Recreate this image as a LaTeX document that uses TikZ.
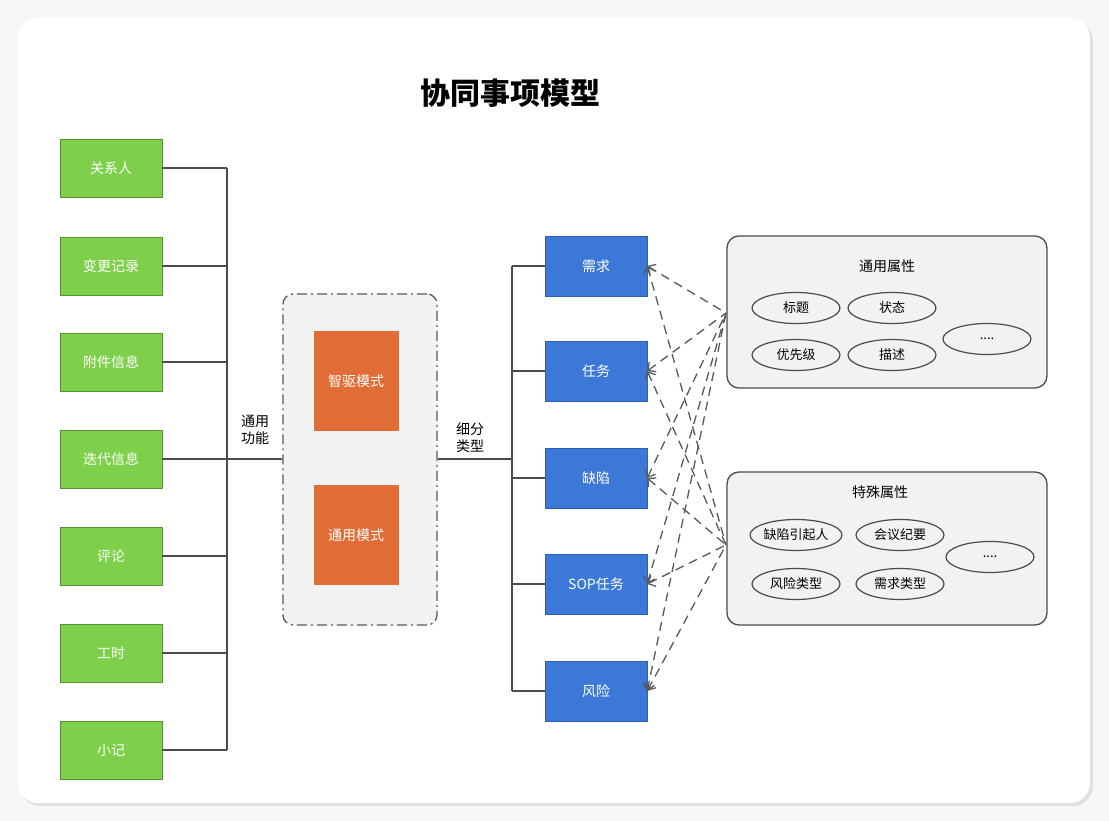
\documentclass[tikz,border=0pt]{standalone}
\usepackage{fontspec}
\setmainfont{Noto Sans CJK SC}
\usetikzlibrary{positioning,shapes.geometric,arrows.meta}
\definecolor{leaf}{HTML}{7ED04B}
\definecolor{mode}{HTML}{E06C36}
\definecolor{kind}{HTML}{3C78D8}
\definecolor{panel}{HTML}{F2F2F2}
\tikzset{
  feature/.style={draw=leaf!70!black,fill=leaf,minimum width=102pt,minimum height=58pt,font=\fontsize{14}{16}\selectfont,text=white},
  modebox/.style={fill=mode,minimum width=85pt,minimum height=100pt,font=\fontsize{14}{16}\selectfont,text=white},
  kindbox/.style={draw=kind!80!black,fill=kind,minimum width=102pt,minimum height=60pt,font=\fontsize{14}{16}\selectfont,text=white},
  attr/.style={ellipse,draw=black!70,line width=1.2pt,fill=panel,minimum width=88pt,minimum height=31pt,inner sep=0pt,font=\fontsize{13}{15}\selectfont},
  link/.style={draw=black!70,line width=1.3pt},
  dashlink/.style={draw=black!65,line width=1.3pt,dash pattern=on 9pt off 6pt,{Straight Barb[length=6pt,width=12pt]}-}
}
\begin{document}
\begin{tikzpicture}[x=1pt,y=-1pt]
  \fill[black!3] (0,0) rectangle (1109,821);
  \fill[black!12,rounded corners=20pt] (20,21) rectangle (1093,806);
  \fill[white,rounded corners=20pt] (18,18) rectangle (1090,803);
  \useasboundingbox (0,0) rectangle (1109,821);

  \node (title) at (510,93) {\fontsize{30}{34}\selectfont\bfseries 协同事项模型};

  % features
  \foreach \name/\txt/\y in {rel/关系人/168,chg/变更记录/266,att/附件信息/362,itr/迭代信息/459,cmt/评论/556,hrs/工时/653,note/小记/750}
    \node[feature] (\name) at (111,\y) {\txt};
  \coordinate (bustop) at (227,168);
  \coordinate (busbot) at (227,750);
  \draw[link] (bustop) -- (busbot);
  \foreach \name in {rel,chg,att,itr,cmt,hrs,note}
    \draw[link] (\name.east) -- (\name.east -| bustop);

  % modes
  \node[draw=black!65,line width=1.3pt,dash pattern=on 10pt off 4pt on 2pt off 4pt,fill=panel,rounded corners=10pt,minimum width=154pt,minimum height=331pt] (modes) at (360,459.5) {};
  \node[modebox] (smart) at (356,381) {智驱模式};
  \node[modebox] (plain) at (356,535) {通用模式};
  \draw[link] (itr.east -| bustop) -- (itr.east -| modes.west);
  \node[align=center,font=\fontsize{14}{17}\selectfont] (common) at (255,430) {通用\\功能};

  % kinds
  \foreach \name/\txt/\y in {req/需求/266,task/任务/371,bug/缺陷/478,sop/SOP任务/584,risk/风险/691}
    \node[kindbox] (\name) at (596,\y) {\txt};
  \coordinate (kbus) at (512,266);
  \draw[link] (kbus) -- (512,691);
  \draw[link] (modes.east |- itr.east) -- (512,459);
  \foreach \name in {req,task,bug,sop,risk}
    \draw[link] (\name.west) -- (\name.west -| kbus);
  \node[align=center,font=\fontsize{14}{17}\selectfont] (sub) at (470,438) {细分\\类型};

  % attribute panels
  \node[draw=black!70,line width=1.3pt,fill=panel,rounded corners=12pt,minimum width=320pt,minimum height=152pt] (gen) at (887,312) {};
  \node[font=\fontsize{14}{16}\selectfont] at (887,266) {通用属性};
  \node[attr] at (796,308) {标题};
  \node[attr] at (892,308) {状态};
  \node[attr] at (796,355) {优先级};
  \node[attr] at (892,355) {描述};
  \node[attr] at (987,339) {....};

  \node[draw=black!70,line width=1.3pt,fill=panel,rounded corners=12pt,minimum width=320pt,minimum height=153pt] (spec) at (887,548.5) {};
  \node[font=\fontsize{14}{16}\selectfont] at (880,492) {特殊属性};
  \node[attr] at (796,535) {缺陷引起人};
  \node[attr] at (900,535) {会议纪要};
  \node[attr] at (796,584) {风险类型};
  \node[attr] at (900,584) {需求类型};
  \node[attr] at (990,557) {....};

  \coordinate (genin) at (726,313);
  \coordinate (specin) at (726,545);
  \foreach \name in {req,task,bug,sop,risk}{
    \draw[dashlink] (\name.east) -- (genin);
    \draw[dashlink] (\name.east) -- (specin);
  }
\end{tikzpicture}
\end{document}
